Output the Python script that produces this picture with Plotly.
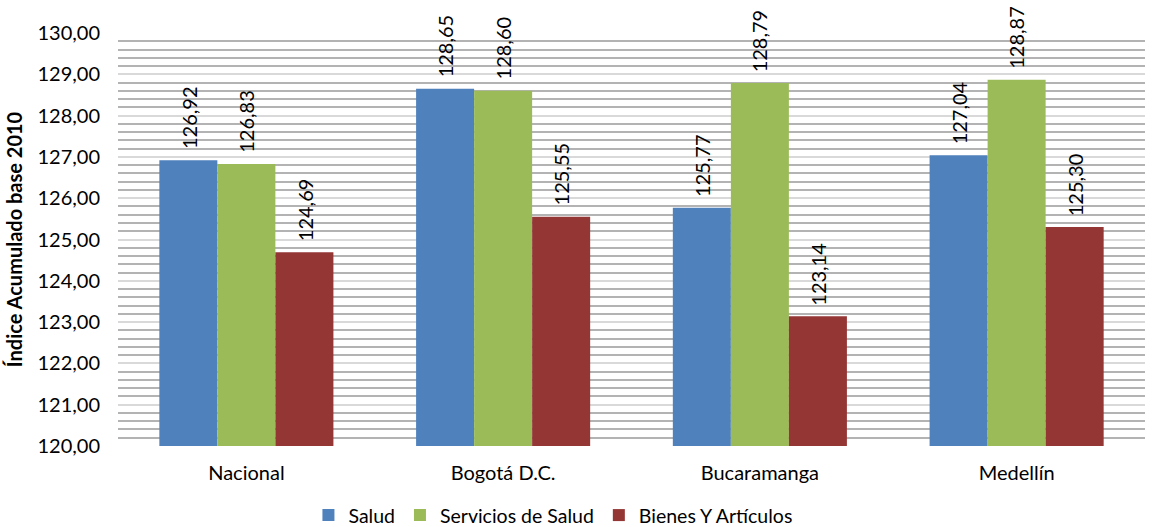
import plotly.graph_objects as go

categories = ["Nacional", "Bogotá D.C.", "Bucaramanga", "Medellín"]
salud = [126.92, 128.65, 125.77, 127.04]
servicios = [126.83, 128.60, 128.79, 128.87]
bienes = [124.69, 125.55, 123.14, 125.30]
y_ticks = [120, 121, 122, 123, 124, 125, 126, 127, 128, 129, 130]

def fmt(v):
    return f"{v:.2f}".replace(".", ",")

series = [
    ("Salud", salud, "#4F81BD"),
    ("Servicios de Salud", servicios, "#9BBB59"),
    ("Bienes Y Artículos", bienes, "#943634"),
]

FONT = "Lato, Carlito, Calibri, sans-serif"
BAR_W = 0.226  # width of one bar, in category units

fig = go.Figure()
annotations = []
for i, (name, vals, color) in enumerate(series):
    off = (i - 1) * BAR_W
    fig.add_trace(go.Bar(
        x=categories, y=vals, name=name,
        width=BAR_W, offset=off - BAR_W / 2,
        marker=dict(color=color, line=dict(width=0)),
    ))
    for j, v in enumerate(vals):
        annotations.append(dict(
            x=j + off, y=v, xref="x", yref="y",
            text=fmt(v), showarrow=False, textangle=-90,
            xanchor="center", yanchor="bottom", yshift=9,
            font=dict(size=20, color="#000000", family=FONT),
        ))

fig.update_layout(
    width=1153, height=527,
    margin=dict(l=118, r=8, t=33, b=81, autoexpand=False),
    paper_bgcolor="white", plot_bgcolor="white",
    barmode="overlay",
    font=dict(family=FONT, size=20, color="#000000"),
    annotations=annotations,
    legend=dict(orientation="h", x=0.4235, xanchor="center",
                yref="container", y=0.022, yanchor="middle",
                font=dict(size=19.5), itemwidth=30, tracegroupgap=0),
    xaxis=dict(showline=False, ticks="", tickfont=dict(size=20), automargin=False,
               ticklabelstandoff=13, range=[-0.5, 3.5]),
    yaxis=dict(
        range=[120, 130], tickvals=y_ticks,
        ticktext=[fmt(v) for v in y_ticks],
        showgrid=True, gridcolor="#D9D9D9", gridwidth=2,
        minor=dict(dtick=0.2, showgrid=True, gridcolor="#B3B3B3", gridwidth=1.5),
        zeroline=False, showline=False, ticks="", automargin=False,
        tickfont=dict(size=20), ticklabelstandoff=17,
        title=dict(text="<b>Índice Acumulado base 2010</b>", font=dict(size=20), standoff=9),
    ),
)

fig.write_html("out.html")
